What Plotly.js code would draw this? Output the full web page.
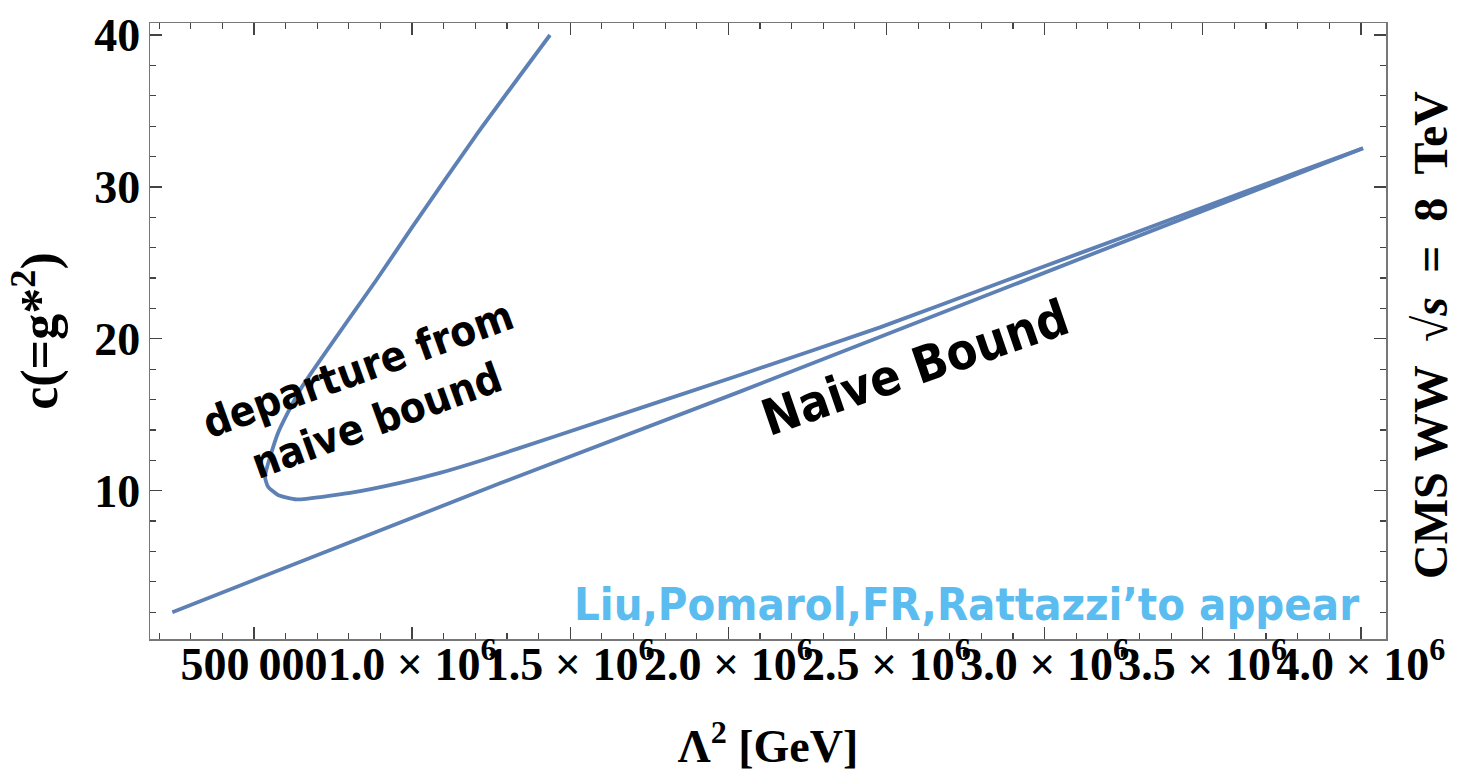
<!DOCTYPE html>
<html>
<head>
<meta charset="utf-8">
<script src="https://cdn.plot.ly/plotly-3.0.1.min.js"></script>
<style>html,body{margin:0;padding:0;background:#fff;}#chart{width:1482px;height:772px;}</style>
</head>
<body>
<div id="chart"></div>
<script>
// Naive bound (straight line)
const naiveLambda2 = [241700, 1277900, 2036700, 4006700];
const naiveC       = [2.0, 10.49, 16.52, 32.54];

// Full bound (departure from naive bound), traced from top end to right end
const fullLambda2 = [1436000, 1198800, 998600, 888000, 645500, 575900, 534800, 544300,
                     575900, 635000, 803600, 961700, 1088100, 1224100, 1436000, 2036700, 2479400,
                     2880000, 3111800, 3428000, 3807500, 4006700];
const fullC        = [40.0, 33.3, 27.3, 23.9, 16.63, 13.80, 10.92, 10.26,
                     9.72, 9.43, 9.85, 10.51, 11.17, 12.02, 13.47, 17.62, 20.75,
                     23.85, 25.64, 28.08, 31.02, 32.54];

const xTickVals = [500000, 1000000, 1500000, 2000000, 2500000, 3000000, 3500000, 4000000];
const xTickText = ['500\u2009000', '1.0 \u00d7 10<sup>6</sup>', '1.5 \u00d7 10<sup>6</sup>', '2.0 \u00d7 10<sup>6</sup>',
                   '2.5 \u00d7 10<sup>6</sup>', '3.0 \u00d7 10<sup>6</sup>', '3.5 \u00d7 10<sup>6</sup>', '4.0 \u00d7 10<sup>6</sup>'];
const yTickVals = [10, 20, 30, 40];
const yTickText = ['10', '20', '30', '40'];

const lineColor = '#5E81B5';
const serif = '"Liberation Serif", "Times New Roman", "DejaVu Serif", serif';
const hand = '"Liberation Sans Narrow", "DejaVu Sans Condensed", "Roboto Condensed", "Noto Sans", sans-serif';

const traces = [
  {x: naiveLambda2, y: naiveC, mode: 'lines', line: {color: lineColor, width: 3.8}, hoverinfo: 'skip'},
  {x: fullLambda2, y: fullC, mode: 'lines', line: {color: lineColor, width: 3.8, shape: 'spline', smoothing: 0.5}, hoverinfo: 'skip'}
];

const axisCommon = {
  showline: true, linecolor: '#777', linewidth: 1.5, mirror: 'allticks',
  ticks: 'inside', ticklen: 12, tickwidth: 1.3, tickcolor: '#444',
  showgrid: false, zeroline: false, tickangle: 0,
  tickfont: {family: serif, size: 46, color: '#000', weight: 'bold'}
};

const layout = {
  width: 1482, height: 772,
  margin: {l: 150, r: 96, t: 23, b: 133},
  paper_bgcolor: '#fff', plot_bgcolor: '#fff',
  showlegend: false,
  xaxis: Object.assign({}, axisCommon, {
    range: [171150, 4079400],
    tickmode: 'array', tickvals: xTickVals, ticktext: xTickText,
    minor: {tickmode: 'linear', tick0: 0, dtick: 100000, ticks: 'inside', ticklen: 6, tickcolor: '#444', tickwidth: 1.2, showgrid: false},
    ticklabelstandoff: -16,
    title: {text: '\u039b<sup>2</sup> [GeV]', font: {family: serif, size: 46, color: '#000', weight: 'bold'}, standoff: 42}
  }),
  yaxis: Object.assign({}, axisCommon, {
    range: [0.236, 40.79],
    tickmode: 'array', tickvals: yTickVals, ticktext: yTickText,
    minor: {tickmode: 'linear', tick0: 0, dtick: 2, ticks: 'inside', ticklen: 6, tickcolor: '#444', tickwidth: 1.2, showgrid: false},
    ticklabelstandoff: -1,
    title: {text: 'c(=g*<sup>2</sup>)', font: {family: serif, size: 52, color: '#000', weight: 'bold'}, standoff: 20}
  }),
  annotations: [
    {xref: 'paper', yref: 'paper', x: 1.0356, y: 0.4935, showarrow: false, textangle: -90,
     text: 'CMS WW  \u221a<i>s</i>  =  8  TeV', font: {family: serif, size: 48, color: '#000', weight: 'bold'},
     xanchor: 'center', yanchor: 'middle'},
    {xref: 'x', yref: 'y', x: 860000, y: 16.3, showarrow: false, textangle: -20,
     text: 'departure from<br>naive bound', font: {family: hand, size: 42, color: '#000', weight: 'bold'},
     xanchor: 'center', yanchor: 'middle'},
    {xref: 'x', yref: 'y', x: 2590000, y: 18.08, showarrow: false, textangle: -19,
     text: 'Naive Bound', font: {family: hand, size: 50, color: '#000', weight: 'bold'},
     xanchor: 'center', yanchor: 'middle'},
    {xref: 'x', yref: 'y', x: 2754500, y: 2.5, showarrow: false,
     text: "Liu,Pomarol,FR,Rattazzi\u2019to appear", font: {family: hand, size: 45, color: '#5BBCF0', weight: 'bold'},
     xanchor: 'center', yanchor: 'middle'}
  ]
};

Plotly.newPlot('chart', traces, layout, {staticPlot: true, displayModeBar: false});
</script>
</body>
</html>
